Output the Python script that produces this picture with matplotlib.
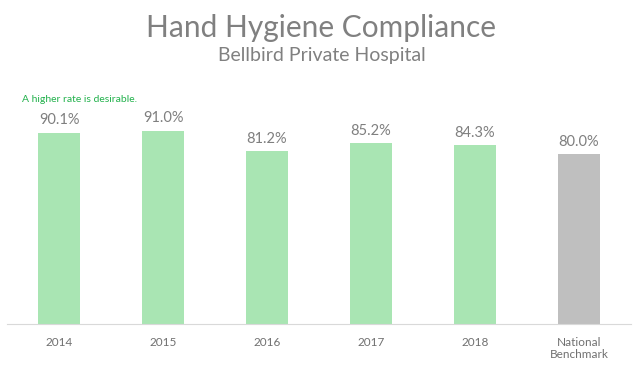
import matplotlib
matplotlib.use("Agg")
import matplotlib.pyplot as plt

categories = ["2014", "2015", "2016", "2017", "2018", "National\nBenchmark"]
values = [90.1, 91.0, 81.2, 85.2, 84.3, 80.0]
colors = ["#A9E5B3"] * 5 + ["#BFBFBF"]

plt.rcParams["font.family"] = ["Lato", "DejaVu Sans"]

fig = plt.figure(figsize=(6.43, 3.76), dpi=100)
ax = fig.add_axes([7 / 643, 52 / 376, 624 / 643, 212.5 / 376])

x = range(len(categories))
bars = ax.bar(x, values, width=0.4, color=colors)
for xi, v in zip(x, values):
    ax.text(xi, v + 2.5, f"{v:.1f}%", ha="center", va="bottom",
            fontsize=10.5, color="#7F7F7F", clip_on=False)

ax.set_xlim(-0.5, len(categories) - 0.5)
ax.set_ylim(0, 100)
ax.set_yticks([])
ax.set_xticks(list(x))
ax.set_xticklabels(categories, fontsize=8.5, color="#707070")
ax.tick_params(axis="x", length=0, pad=9)
for s in ["top", "right", "left"]:
    ax.spines[s].set_visible(False)
ax.spines["bottom"].set_color("#D9D9D9")

fig.text(321.5, 376 - 28, "Hand Hygiene Compliance", transform=None, ha="center",
         va="center", fontsize=21.5, color="#808080")
fig.text(321.5, 376 - 55, "Bellbird Private Hospital", transform=None, ha="center",
         va="center", fontsize=14, color="#808080")
fig.text(22, 376 - 99, "A higher rate is desirable.", transform=None, ha="left",
         va="center", fontsize=7.5, color="#22B14C")

fig.savefig("out.png", dpi=100)
